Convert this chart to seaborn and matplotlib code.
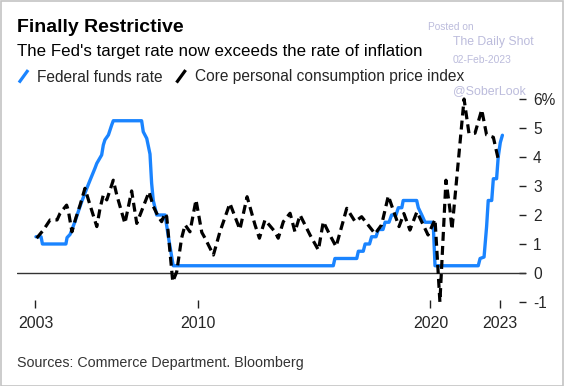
import matplotlib
matplotlib.use("Agg")
import matplotlib.pyplot as plt
from matplotlib.lines import Line2D
from matplotlib.patches import Rectangle
from matplotlib.legend_handler import HandlerBase
import seaborn as sns
import pandas as pd

# ---- data ----
fed_years = [2003.02, 2003.24, 2003.30, 2004.31, 2004.36, 2004.49, 2004.70, 2004.84, 2004.99,
             2005.21, 2005.35, 2005.56, 2005.64, 2005.85, 2005.92, 2005.99, 2006.14, 2006.28,
             2006.35, 2007.57, 2007.64, 2007.79, 2007.93, 2008.00, 2008.07, 2008.22, 2008.58,
             2008.72, 2008.93, 2015.82, 2015.89, 2016.83, 2016.90, 2017.11, 2017.19, 2017.38,
             2017.47, 2017.66, 2017.76, 2017.96, 2018.05, 2018.22, 2018.33, 2018.52, 2018.62,
             2018.77, 2018.83, 2019.41, 2019.48, 2019.63, 2019.77, 2020.06, 2020.13, 2020.20,
             2022.06, 2022.14, 2022.31, 2022.42, 2022.49, 2022.64, 2022.71, 2022.85, 2022.92,
             2023.01, 2023.10]
fed_rate = [1.25, 1.25, 1.0, 1.0, 1.22, 1.33, 1.77, 2.11, 2.46,
            2.92, 3.2, 3.61, 3.78, 4.07, 4.41, 4.59, 4.76, 5.1,
            5.25, 5.25, 4.87, 4.64, 4.1, 3.1, 2.5, 2.0, 2.0,
            1.25, 0.25, 0.25, 0.5, 0.5, 0.75, 0.75, 1.0, 1.0,
            1.25, 1.25, 1.5, 1.5, 1.75, 1.75, 2.0, 2.0, 2.25,
            2.25, 2.5, 2.5, 2.25, 2.0, 1.75, 1.75, 1.55, 0.25,
            0.25, 0.5, 0.55, 1.6, 2.5, 2.5, 3.25, 3.25, 4.0,
            4.5, 4.75]

pce_years = [2003.05, 2003.34, 2003.63, 2003.93, 2004.06, 2004.34, 2004.41, 2004.57, 2004.74, 2004.92,
             2005.13, 2005.35, 2005.64, 2005.78, 2005.92, 2006.07, 2006.35, 2006.50, 2006.85, 2007.14,
             2007.36, 2007.89, 2008.07, 2008.29, 2008.43, 2008.58, 2008.65, 2008.79, 2008.91, 2009.08,
             2009.29, 2009.44, 2009.65, 2009.91, 2010.16, 2010.30, 2010.66, 2010.94, 2011.37, 2011.80,
             2012.11, 2012.45, 2012.64, 2012.88, 2013.31, 2013.45, 2013.67, 2013.96, 2014.17, 2014.39,
             2014.82, 2015.18, 2015.39, 2015.68, 2015.94, 2016.40, 2016.76, 2017.04, 2017.62, 2017.90,
             2018.19, 2018.43, 2018.65, 2018.86, 2019.12, 2019.42, 2019.90, 2020.20, 2020.41, 2020.67,
             2020.84, 2020.93, 2021.45, 2021.66, 2021.92, 2022.21, 2022.42, 2022.71, 2022.92]
pce_rate = [1.2, 1.48, 1.83, 1.83, 2.06, 2.34, 2.17, 1.42, 1.9, 2.34,
            2.92, 2.34, 1.6, 2.23, 2.69, 2.52, 3.2, 2.69, 1.71, 2.83,
            1.71, 2.8, 2.3, 1.94, 1.77, 2.06, 1.94, 0.73, -0.3, 0.04,
            1.2, 1.66, 1.42, 2.52, 1.4, 1.2, 0.62, 1.42, 2.4, 1.5,
            2.63, 1.66, 1.2, 1.83, 1.42, 1.2, 1.77, 2.06, 1.42, 2.0,
            1.31, 0.79, 1.77, 1.3, 0.91, 2.23, 1.77, 1.94, 1.35, 1.66,
            2.66, 2.1, 1.6, 2.05, 1.48, 2.11, 1.31, 1.85, -1.0, 3.2,
            2.2, 1.5, 6.0, 4.82, 4.82, 5.63, 4.76, 4.68, 3.93]

x_ticks = [2003, 2010, 2020, 2023]
x_tick_labels = ["2003", "2010", "2020", "2023"]
y_ticks = [-1, 0, 1, 2, 3, 4, 5, 6]
y_tick_labels = ["-1", "0", "1", "2", "3", "4", "5", "6%"]

series_names = ["Federal funds rate", "Core personal consumption price index"]

# ---- style ----
sns.set_style("white")
plt.rcParams['font.family'] = ['Liberation Sans', 'DejaVu Sans']

BLUE = "#1a84ff"
W, H = 564, 386

fig = plt.figure(figsize=(W / 100, H / 100), dpi=100)
ax = fig.add_axes([17 / W, 1 - 307.5 / H, (526 - 17) / W, (307.5 - 90) / H])

fed_df = pd.DataFrame({"year": fed_years, "rate": fed_rate})
pce_df = pd.DataFrame({"year": pce_years, "rate": pce_rate})

ax.axhline(0, color="#333333", lw=1.0, zorder=1)
sns.lineplot(data=fed_df, x="year", y="rate", ax=ax, color=BLUE, lw=2.4,
             estimator=None, sort=False, zorder=3)
sns.lineplot(data=pce_df, x="year", y="rate", ax=ax, color="black", lw=2.3,
             linestyle=(0, (2.8, 1.6)), estimator=None, sort=False, zorder=4)

ax.set_xlim(2002.205, 2024.116)
ax.set_ylim(-1.19, 6.31)
ax.set_xlabel("")
ax.set_ylabel("")
for s in ax.spines.values():
    s.set_visible(False)

ax.set_xticks(x_ticks)
ax.set_xticklabels(x_tick_labels)
ax.yaxis.tick_right()
ax.set_yticks(y_ticks)
ax.set_yticklabels(y_tick_labels)
ax.tick_params(axis="x", direction="in", length=5.5, width=1, color="#222222",
               labelsize=11.5, pad=6.2, bottom=True)
ax.tick_params(axis="y", direction="in", length=5, width=1, color="#222222",
               labelsize=11.2, pad=5, right=True, left=False)
ax.grid(False)

# ---- legend with slash handles ----
class HandlerSlash(HandlerBase):
    def create_artists(self, legend, orig_handle, xdescent, ydescent, width, height, fontsize, trans):
        x0 = -xdescent + 0.05 * width
        x1 = -xdescent + 0.95 * width
        y0 = -ydescent - 0.1 * height
        y1 = -ydescent + 1.05 * height
        ln = Line2D([x0, x1], [y0, y1], color=orig_handle.get_color(), lw=2.3,
                    solid_capstyle="butt", transform=trans)
        return [ln]

handles = [Line2D([], [], color=BLUE), Line2D([], [], color="black")]
fig.legend(handles, series_names, handler_map={Line2D: HandlerSlash()},
           loc="lower left", bbox_to_anchor=(18.5 / W, 1 - 84.5 / H), ncol=2, frameon=False,
           fontsize=11.2, handlelength=0.65, handletextpad=0.55, columnspacing=0.85,
           borderpad=0, borderaxespad=0)

# ---- titles ----
fig.text(17 / W, 1 - 31.7 / H, "Finally Restrictive", fontsize=14, fontweight="bold",
         family=["Liberation Sans Narrow", "Liberation Sans", "DejaVu Sans"],
         ha="left", va="baseline", color="black")
fig.text(17 / W, 1 - 56 / H, "The Fed's target rate now exceeds the rate of inflation",
         fontsize=12.2, ha="left", va="baseline", color="black")
fig.text(17 / W, 1 - 366.5 / H, "Sources: Commerce Department. Bloomberg",
         fontsize=10.3, ha="left", va="baseline", color="#333333")

# ---- watermark ----
WM = "#bcbcdc"
fig.text(427.7 / W, 1 - 27 / H, "Posted on", fontsize=7.3, color=WM, ha="left", va="center")
fig.text(452.7 / W, 1 - 42.3 / H, "The Daily Shot", fontsize=8.8, color=WM, ha="left", va="center")
fig.text(452.7 / W, 1 - 60 / H, "02-Feb-2023", fontsize=7.4, color=WM, ha="left", va="center")
fig.text(452.7 / W, 1 - 91 / H, "@SoberLook", fontsize=8.9, color=WM, ha="left", va="center")

# ---- figure border ----
fig.patches.append(Rectangle((0.5 / W, 0.5 / H), 1 - 1.5 / W, 1 - 1.5 / H,
                             transform=fig.transFigure, fill=False,
                             edgecolor="#c4c4c4", lw=1.2))

fig.savefig("out.png", dpi=100)
